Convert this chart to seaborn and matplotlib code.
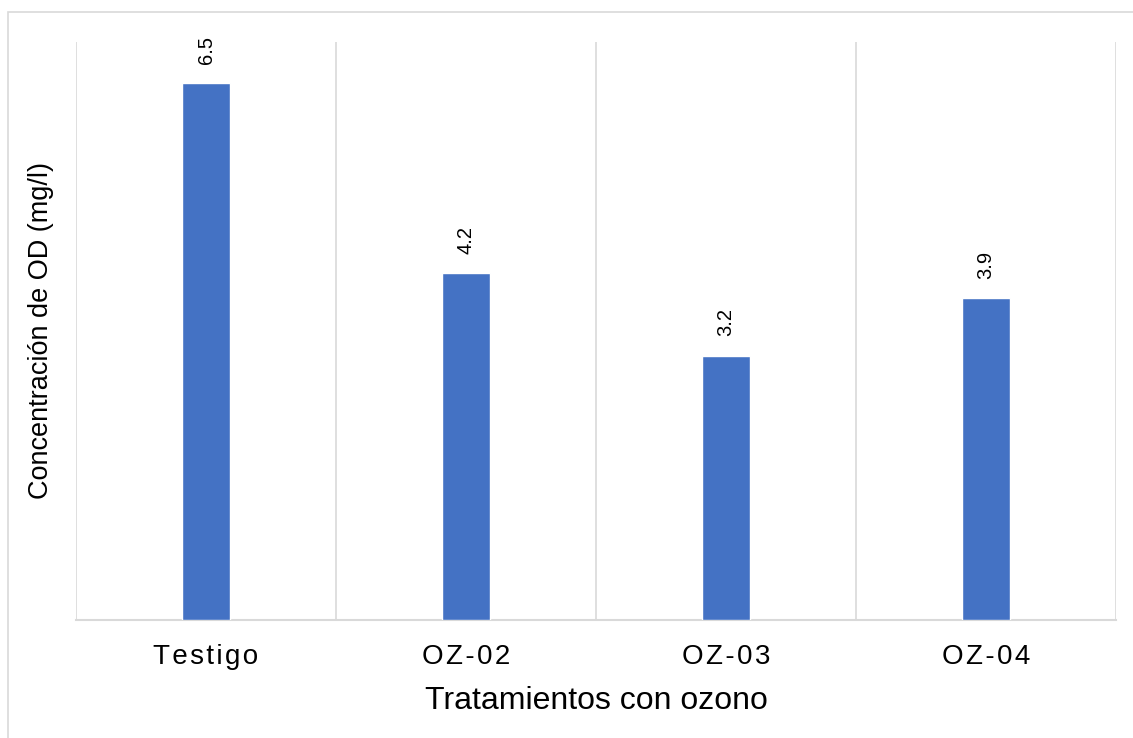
import matplotlib
matplotlib.use("Agg")
import matplotlib.pyplot as plt
from matplotlib.patches import Rectangle
import seaborn as sns
import pandas as pd

# Dissolved-oxygen concentration per ozone treatment
tratamientos = ["Testigo", "OZ-02", "OZ-03", "OZ-04"]
od_mg_l = [6.5, 4.2, 3.2, 3.9]

df = pd.DataFrame({"tratamiento": tratamientos, "od": od_mg_l})

sns.set_theme(style="white")
plt.rcParams["font.family"] = ["Liberation Sans", "DejaVu Sans"]

fig = plt.figure(figsize=(11.33, 7.38), dpi=100)
ax = fig.add_axes([0.0671, 0.1599, 0.9179, 0.7832])

# thin frame around the chart area
fig.patches.append(Rectangle((8 / 1133, -0.1), 1.2, 1 - 12 / 738 + 0.1,
                             transform=fig.transFigure, fill=False,
                             edgecolor="#D9D9D9", linewidth=1.2, zorder=0))

sns.barplot(data=df, x="tratamiento", y="od", color="#4472C4",
            saturation=1, width=0.185, ax=ax, zorder=3)

ax.set_ylim(0, 7)
ax.set_xlim(-0.5, len(tratamientos) - 0.5)

# separators between categories
ax.set_xticks([i - 0.5 for i in range(len(tratamientos) + 1)], minor=True)
ax.grid(which="minor", axis="x", color="#D9D9D9", linewidth=1.2)
ax.tick_params(which="both", length=0)
ax.set_yticks([])

for side in ["top", "left", "right"]:
    ax.spines[side].set_visible(False)
ax.spines["bottom"].set_color("#D9D9D9")
ax.spines["bottom"].set_linewidth(1.5)

# slightly tracked category names
spaced = ["\u200a".join(t) for t in tratamientos]
ax.set_xticks(range(len(tratamientos)))
ax.set_xticklabels(spaced, fontsize=20, color="black")
ax.tick_params(axis="x", pad=17)

ax.set_xlabel("Tratamientos con ozono", fontsize=23, color="black", labelpad=12)
ax.set_ylabel("Concentración de OD (mg/l)", fontsize=19.5, color="black", labelpad=16)

for cont in ax.containers:
    ax.bar_label(cont, labels=[f"{v:.1f}" for v in od_mg_l], rotation=90,
                 padding=14, fontsize=14.5, color="black")

fig.savefig("out.png", dpi=100, facecolor="white")
